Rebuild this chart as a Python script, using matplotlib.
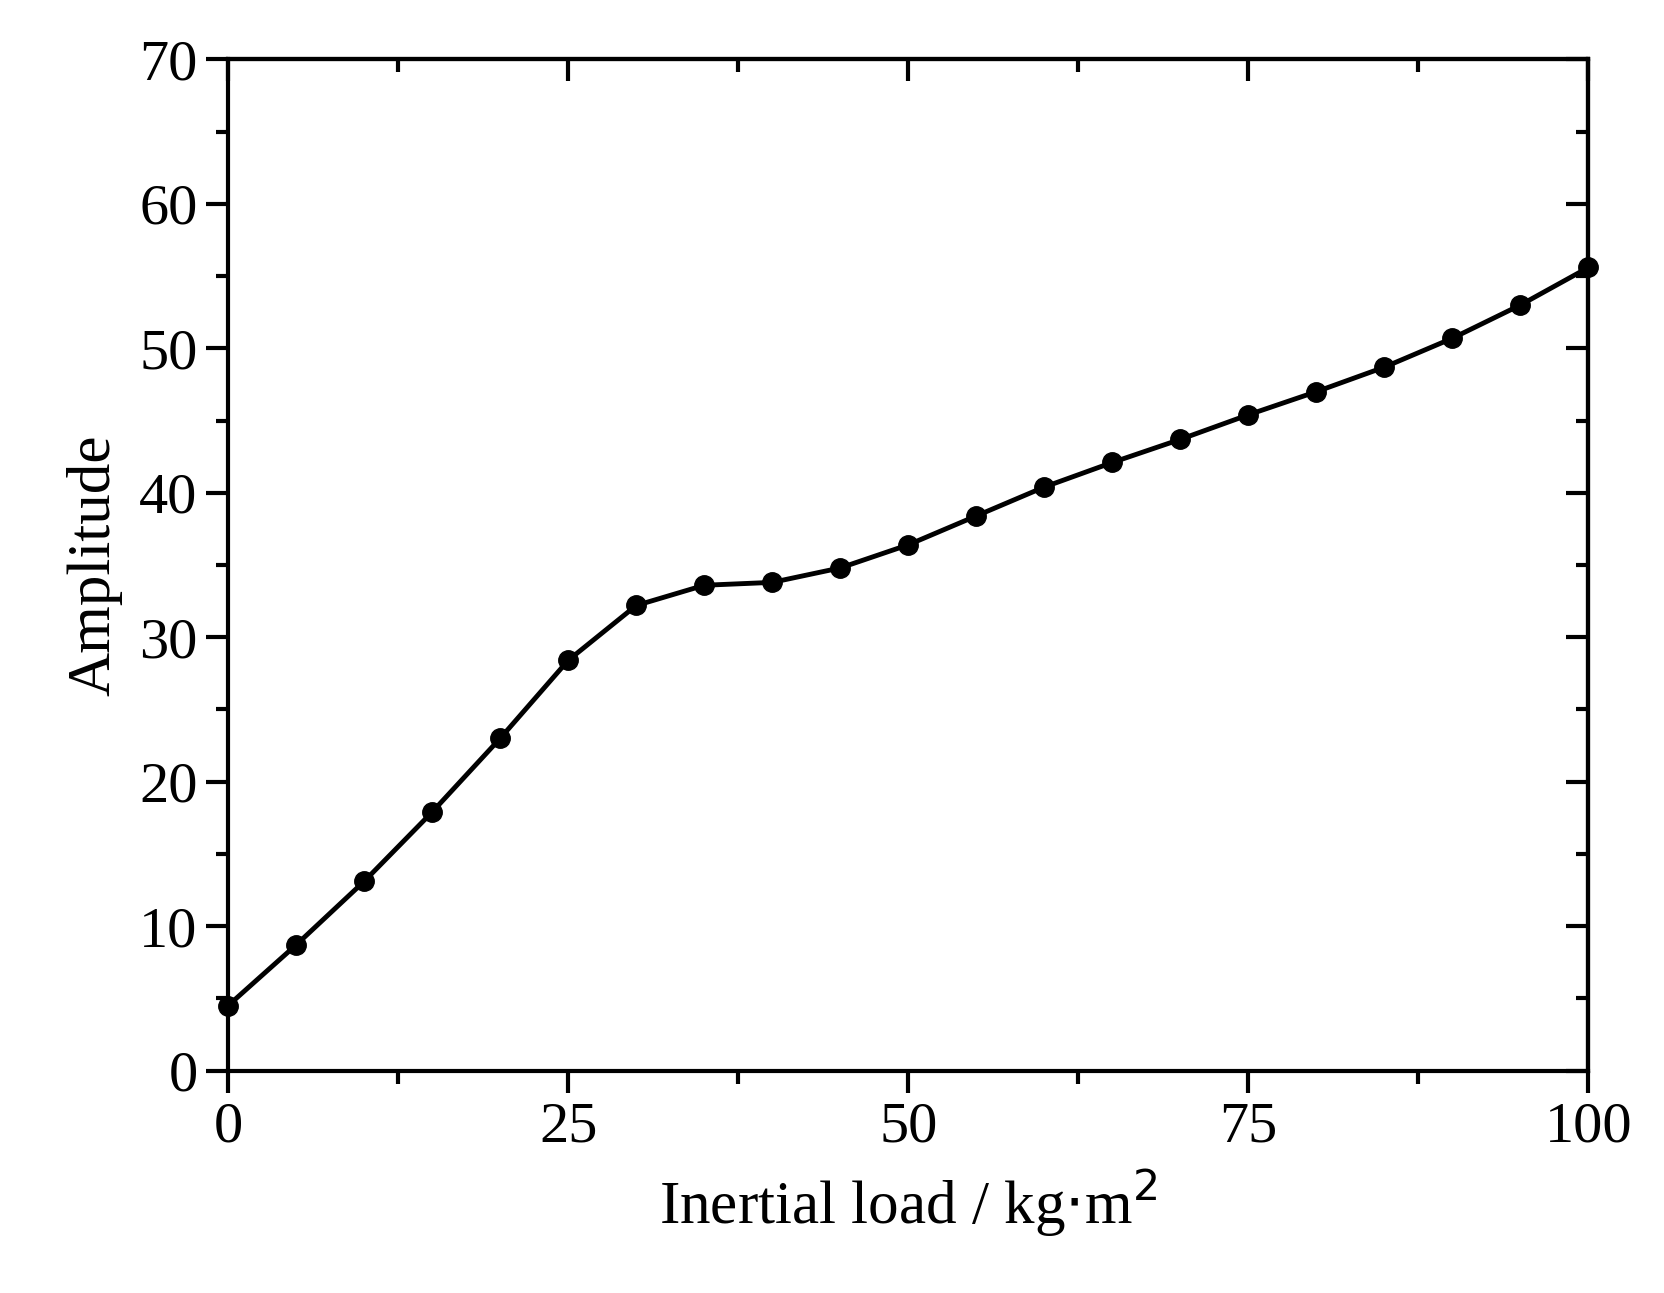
import matplotlib.pyplot as plt
from matplotlib.ticker import MultipleLocator

# 数据
inertial_load = [0, 5, 10, 15, 20, 25, 30, 35, 40, 45, 50,
                 55, 60, 65, 70, 75, 80, 85, 90, 95, 100]
amplitude = [4.5, 8.7, 13.1, 17.9, 23.0, 28.4, 32.2, 33.6, 33.8, 34.8, 36.4,
             38.4, 40.4, 42.1, 43.7, 45.4, 47.0, 48.7, 50.7, 53.0, 55.6]

plt.rcParams['font.family'] = ['Liberation Serif', 'DejaVu Serif']

fig = plt.figure(figsize=(16.65, 12.93), dpi=100)
ax = fig.add_axes([0.137, 0.172, 0.817, 0.782])

ax.plot(inertial_load, amplitude, '-o', color='black', lw=3.5, ms=14, clip_on=False, zorder=5)

ax.set_xlim(0, 100)
ax.set_ylim(0, 70)
ax.xaxis.set_major_locator(MultipleLocator(25))
ax.xaxis.set_minor_locator(MultipleLocator(12.5))
ax.yaxis.set_major_locator(MultipleLocator(10))
ax.yaxis.set_minor_locator(MultipleLocator(5))

for s in ax.spines.values():
    s.set_linewidth(3)

ax.tick_params(which='both', direction='out', width=3, labelsize=42, pad=6)
ax.tick_params(which='major', length=16)
ax.tick_params(which='minor', length=9)

# 上边和右边的刻度朝内
top = ax.secondary_xaxis('top')
top.xaxis.set_major_locator(MultipleLocator(25))
top.xaxis.set_minor_locator(MultipleLocator(12.5))
top.tick_params(which='both', direction='in', width=3, labeltop=False)
top.tick_params(which='major', length=16)
top.tick_params(which='minor', length=9)
top.spines['top'].set_linewidth(3)
right = ax.secondary_yaxis('right')
right.yaxis.set_major_locator(MultipleLocator(10))
right.yaxis.set_minor_locator(MultipleLocator(5))
right.tick_params(which='both', direction='in', width=3, labelright=False)
right.tick_params(which='major', length=16)
right.tick_params(which='minor', length=9)
right.spines['right'].set_linewidth(3)

ax.set_xlabel('Inertial load / kg$\\cdot$m$^2$', fontsize=44, labelpad=10)
ax.set_ylabel('Amplitude', fontsize=44, labelpad=12)

plt.rcParams['mathtext.fontset'] = 'stix'
fig.savefig('out.png', dpi=100)
